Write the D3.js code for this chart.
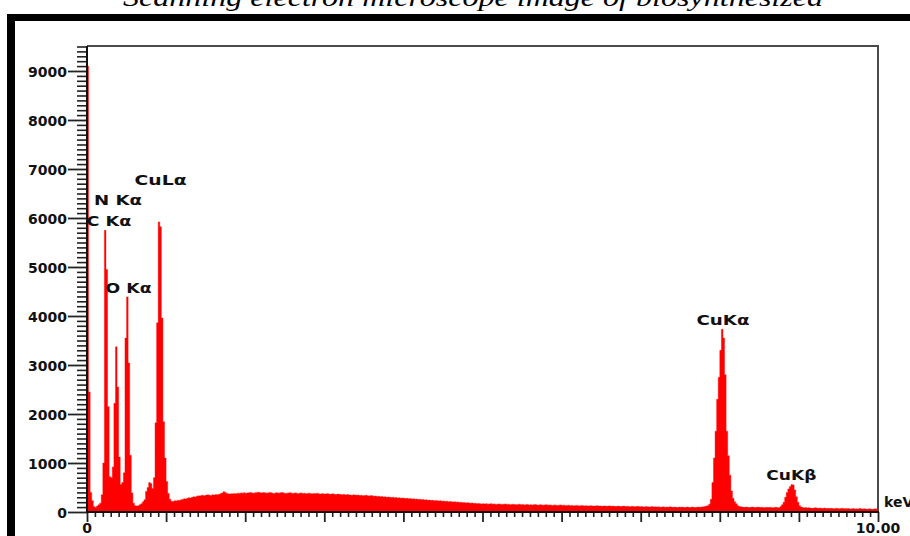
<!DOCTYPE html>
<html>
<head>
<meta charset="utf-8">
<script src="https://cdn.jsdelivr.net/npm/d3@7"></script>
<style>
  html, body { margin: 0; padding: 0; background: #fff; }
  svg { display: block; }
</style>
</head>
<body>
<svg id="chart" width="910" height="536"></svg>
<script>
// EDS spectrum: counts per 0.02 keV channel, 0 – 10 keV
const channelWidthKeV = 0.02;
const counts = [
  9100,2450,400,230,110,90,120,150,180,350,
  1000,5750,4950,2150,720,700,920,2220,3370,2550,
  1120,560,600,800,3550,4390,3040,1160,390,180,
  130,120,130,150,170,210,250,420,500,600,
  580,480,700,1820,3860,5920,5820,3960,1840,1100,
  620,380,260,220,215,230,225,240,235,250,
  255,270,265,280,290,285,300,310,305,320,
  330,325,340,335,330,345,350,340,335,350,
  345,355,350,360,375,390,415,400,380,370,
  365,375,370,380,375,385,380,390,385,395,
  380,390,395,400,390,385,395,400,405,395,
  390,400,395,385,390,400,395,385,380,395,
  390,385,395,400,390,380,385,390,395,385,
  380,390,385,375,385,390,380,385,375,380,
  385,375,370,380,375,385,370,365,375,370,
  365,375,370,360,365,370,360,355,365,360,
  355,350,360,345,355,350,345,340,350,345,
  340,345,335,340,330,335,340,330,325,335,
  330,320,325,315,320,310,315,305,310,300,
  305,300,295,300,290,295,285,290,280,285,
  280,275,280,270,275,265,270,260,265,255,
  260,250,255,245,250,240,245,235,240,230,
  235,230,225,230,220,225,215,220,210,215,
  210,205,210,200,205,195,200,190,195,185,
  190,185,180,185,175,180,170,175,170,165,
  170,165,170,160,165,170,160,165,155,160,
  165,160,155,160,165,155,160,150,155,160,
  155,150,155,160,150,155,145,150,155,145,
  150,145,150,155,145,140,150,145,140,145,
  150,140,145,140,135,145,140,135,140,145,
  135,140,130,135,140,130,135,125,130,135,
  130,125,135,130,125,130,120,125,130,125,
  120,125,130,120,125,115,120,125,115,120,
  125,115,120,115,110,120,115,110,115,120,
  110,115,110,105,115,110,105,110,115,105,
  110,105,100,110,105,100,105,110,100,105,
  100,105,95,100,105,95,100,95,105,100,
  95,100,95,90,100,95,100,90,95,100,
  95,90,100,95,90,95,100,95,100,105,
  110,120,130,160,260,600,1100,1650,2300,2750,
  3300,3730,3550,2800,1650,1150,750,430,280,210,
  170,130,110,105,100,95,100,95,90,95,
  100,95,90,95,100,90,95,90,85,95,
  90,95,90,85,90,95,90,85,110,150,
  200,300,400,470,520,560,550,450,310,200,
  130,100,90,85,90,80,85,80,75,80,
  85,80,75,80,70,75,80,70,75,70,
  75,70,65,75,70,65,70,75,65,70,
  65,70,60,65,70,60,65,60,70,65,
  60,65,60,55,65,60,55,60,65,55
];

// Emission line labels: name, line energy (keV), label height (counts)
const lineNames    = ["C K\u03b1", "N K\u03b1", "O K\u03b1", "CuL\u03b1", "CuK\u03b1", "CuK\u03b2"];
const lineEnergies = [0.277, 0.392, 0.525, 0.930, 8.040, 8.905];
const lineLabelAt  = [5840, 6265, 4470, 6675, 3815, 655];

// Axis ticks
const yMajorTicks = [0, 1000, 2000, 3000, 4000, 5000, 6000, 7000, 8000, 9000];
const xLabelTicks = [0, 10];
const xLabelText  = ["0", "10.00"];
const xUnit = "keV";
const titleText = "Scanning electron microscope image of biosynthesized";

const svg = d3.select("#chart");
const font = "'DejaVu Sans', Arial, sans-serif";

const x = d3.scaleLinear().domain([0, 10]).range([87, 878]);
const y = d3.scaleLinear().domain([0, 9510]).range([512, 46]);

// Caption line running off the top of the page
svg.append("text")
  .attr("x", 123).attr("y", 6)
  .attr("textLength", 700).attr("lengthAdjust", "spacingAndGlyphs")
  .attr("font-family", "'Liberation Serif', 'Times New Roman', serif")
  .attr("font-style", "italic").attr("font-size", 25)
  .attr("fill", "#000")
  .text(titleText);

// Heavy black frame (top and left)
svg.append("rect").attr("x", 7).attr("y", 14).attr("width", 903).attr("height", 7).attr("fill", "#000");
svg.append("rect").attr("x", 7).attr("y", 14).attr("width", 8).attr("height", 522).attr("fill", "#000");

// Plot box (top and right edges)
svg.append("path")
  .attr("d", `M${x(0)},${y.range()[1]}H${x(10)}V${y(0)}`)
  .attr("fill", "none").attr("stroke", "#4a4a4a").attr("stroke-width", 2);

// Spectrum as a stepped filled histogram
const pts = counts.map((c, i) => [i * channelWidthKeV, c]);
pts.push([10, counts[counts.length - 1]]);
const area = d3.area()
  .curve(d3.curveStepAfter)
  .x(d => x(d[0]))
  .y0(y(0))
  .y1(d => y(d[1]));
svg.append("path")
  .datum(pts)
  .attr("d", area)
  .attr("fill", "#ff0000")
  .attr("stroke", "#ff0000")
  .attr("stroke-width", 0.4);

// Y axis: minor ticks every 100 counts, major every 1000 with labels
const yMinor = d3.range(0, 9600, 100).filter(v => v % 1000 !== 0);
const yMinorAxis = svg.append("g")
  .attr("transform", `translate(${x(0)},0)`)
  .call(d3.axisLeft(y).tickValues(yMinor).tickSize(10).tickFormat(""));
yMinorAxis.select(".domain").remove();
yMinorAxis.selectAll(".tick line").attr("stroke", "#222").attr("stroke-width", 1.6);

const yMajorAxis = svg.append("g")
  .attr("transform", `translate(${x(0)},0)`)
  .call(d3.axisLeft(y).tickValues(yMajorTicks).tickSize(19).tickPadding(1).tickFormat(d3.format("d")));
yMajorAxis.select(".domain").remove();
yMajorAxis.selectAll(".tick line").attr("stroke", "#222").attr("stroke-width", 1.8);
yMajorAxis.selectAll(".tick text")
  .attr("font-family", font).attr("font-weight", "bold").attr("font-size", 14)
  .attr("fill", "#111").attr("dy", "0.36em");

// X axis: minor ticks every 0.1 keV, major every 1 keV
const xMinor = d3.range(0, 101).map(v => v / 10).filter((v, i) => i % 10 !== 0);
const xMinorAxis = svg.append("g")
  .attr("transform", `translate(0,${y(0)})`)
  .call(d3.axisBottom(x).tickValues(xMinor).tickSize(5).tickFormat(""));
xMinorAxis.select(".domain").remove();
xMinorAxis.selectAll(".tick line").attr("stroke", "#222").attr("stroke-width", 1.6);

const xMajorAxis = svg.append("g")
  .attr("transform", `translate(0,${y(0)})`)
  .call(d3.axisBottom(x).tickValues(d3.range(0, 11)).tickSize(10).tickFormat(""));
xMajorAxis.select(".domain").remove();
xMajorAxis.selectAll(".tick line").attr("stroke", "#222").attr("stroke-width", 1.8);

// X labels at the ends only
svg.selectAll(".xlab")
  .data(xLabelTicks)
  .join("text")
  .attr("class", "xlab")
  .attr("x", d => x(d))
  .attr("y", 533)
  .attr("text-anchor", "middle")
  .attr("font-family", font).attr("font-weight", "bold").attr("font-size", 14)
  .attr("fill", "#111")
  .text((d, i) => xLabelText[i]);

// Unit label at the right of the x axis
svg.append("text")
  .attr("x", 884).attr("y", 507)
  .attr("font-family", font).attr("font-weight", "bold").attr("font-size", 14)
  .attr("fill", "#111")
  .text(xUnit);

// Axis lines
svg.append("line")
  .attr("x1", x(0)).attr("x2", x(0)).attr("y1", y.range()[1]).attr("y2", y(0) + 1)
  .attr("stroke", "#111").attr("stroke-width", 2);
svg.append("line")
  .attr("x1", x(0)).attr("x2", x(10) + 1).attr("y1", y(0)).attr("y2", y(0))
  .attr("stroke", "#111").attr("stroke-width", 2);

// Line labels centred on their energies
const labelWidths = { "C K\u03b1": 45, "N K\u03b1": 48, "O K\u03b1": 46, "CuL\u03b1": 52, "CuK\u03b1": 53, "CuK\u03b2": 50 };
svg.selectAll(".peak")
  .data(lineNames)
  .join("text")
  .attr("class", "peak")
  .attr("x", (d, i) => x(lineEnergies[i]) - labelWidths[d] / 2)
  .attr("y", (d, i) => y(lineLabelAt[i]))
  .attr("textLength", d => labelWidths[d])
  .attr("lengthAdjust", "spacingAndGlyphs")
  .attr("font-family", font).attr("font-weight", "bold").attr("font-size", 14)
  .attr("fill", "#111")
  .text(d => d);
</script>
</body>
</html>
